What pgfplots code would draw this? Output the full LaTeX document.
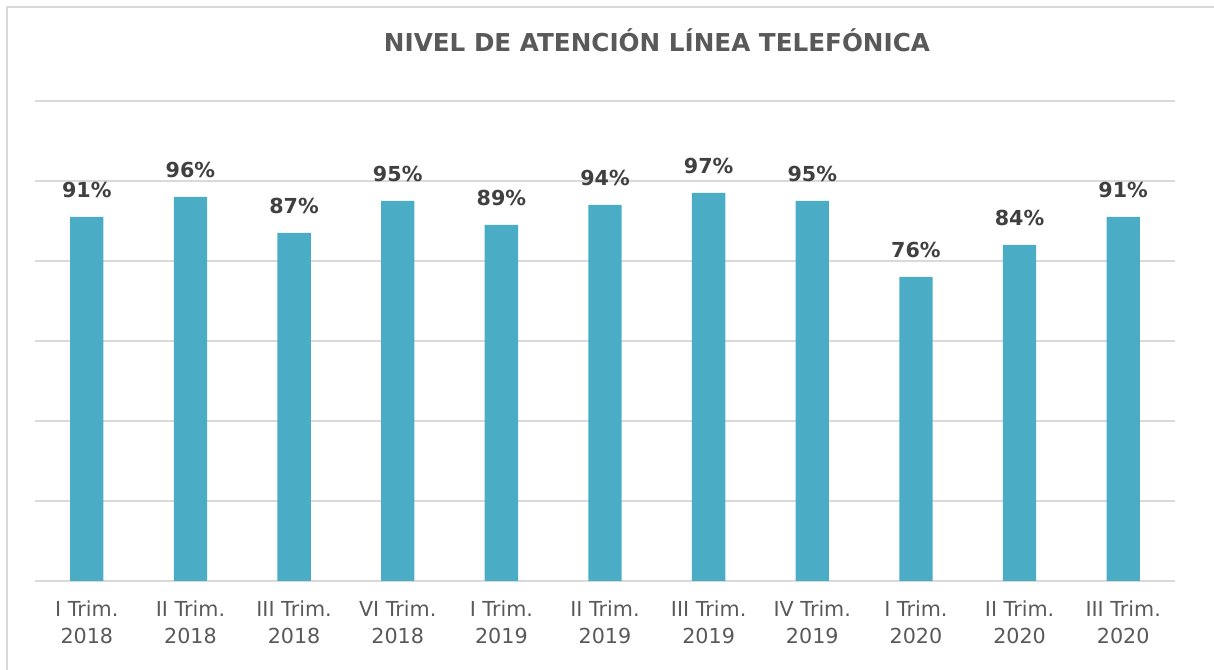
\documentclass[border=0pt]{standalone}
\usepackage{pgfplots}
\pgfplotsset{compat=1.18}
\usepackage{fontspec}
\setmainfont{DejaVu Sans}
\definecolor{barc}{HTML}{4BACC6}
\definecolor{gridc}{HTML}{D9D9D9}
\definecolor{titlec}{HTML}{595959}
\definecolor{labc}{HTML}{404040}
\definecolor{tickc}{HTML}{595959}
\begin{document}
\begin{tikzpicture}
\path[use as bounding box] (0pt,0pt) rectangle (910.5pt,502.5pt);
\draw[gridc,line width=1.5pt] (5.25pt,0pt) -- (5.25pt,497.25pt) -- (910.5pt,497.25pt);
\node[font=\fontsize{18.5}{21}\selectfont\bfseries,text=titlec] at (492.75pt,472pt) {NIVEL DE ATENCIÓN LÍNEA TELEFÓNICA};
\begin{axis}[
  at={(26.25pt,66.75pt)}, anchor=south west,
  width=855pt, height=360pt, scale only axis,
  xmin=-0.5, xmax=10.5, ymin=0, ymax=120,
  ytick={0,20,...,120}, yticklabels={},
  ymajorgrids, grid style={gridc,line width=1.2pt},
  axis line style={draw=none},
  major tick length=0pt,
  xtick=data,
  xticklabels={{I Trim.\\2018},{II Trim.\\2018},{III Trim.\\2018},{VI Trim.\\2018},{I Trim.\\2019},{II Trim.\\2019},{III Trim.\\2019},{IV Trim.\\2019},{I Trim.\\2020},{II Trim.\\2020},{III Trim.\\2020}},
  xticklabel style={align=center,font=\fontsize{15.5}{20.25}\selectfont,text=tickc,yshift=-11pt},
  /pgf/number format/assume math mode=true,
  ybar, bar width=25pt,
  nodes near coords={\pgfmathprintnumber[assume math mode=true]{\pgfplotspointmeta}\%},
  nodes near coords style={font=\fontsize{15.5}{18}\selectfont\bfseries,text=labc,yshift=11pt},
  clip=false,
]
\draw[gridc,line width=1.2pt] (axis cs:-0.5,0) -- (axis cs:10.5,0);
\addplot[fill=barc,draw=none] coordinates {(0,91) (1,96) (2,87) (3,95) (4,89) (5,94) (6,97) (7,95) (8,76) (9,84) (10,91)};
\end{axis}
\end{tikzpicture}
\end{document}
